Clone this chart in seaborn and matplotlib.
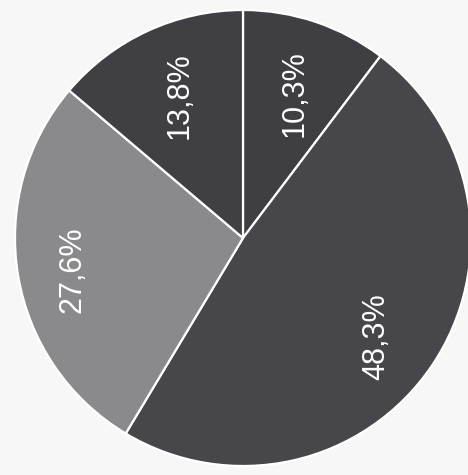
import matplotlib
matplotlib.use("Agg")
import matplotlib.pyplot as plt
import seaborn as sns

# Slice shares (percent), clockwise from 12 o'clock
shares = [10.3, 48.3, 27.6, 13.8]
labels = ["10,3%", "48,3%", "27,6%", "13,8%"]
slice_colors = ["#3f3e42", "#47464a", "#8a898c", "#403f43"]
# label anchor points in pie units (radius = 1)
label_xy = [(0.228, 0.632), (0.583, -0.434), (-0.75, -0.14), (-0.276, 0.623)]

sns.set_theme(style="white")
plt.rcParams["font.family"] = ["Liberation Sans", "DejaVu Sans"]

bg = "#f7f7f7"
fig = plt.figure(figsize=(4.68, 4.75), dpi=100, facecolor=bg)
ax = fig.add_axes([15 / 468, 9 / 475, 456 / 468, 456 / 475])
ax.set_facecolor(bg)

palette = sns.color_palette(slice_colors)
ax.pie(shares, colors=palette, startangle=90, counterclock=False, radius=1,
       wedgeprops=dict(edgecolor="white", linewidth=1.6))

for text, (x, y) in zip(labels, label_xy):
    ax.text(x, y, text, rotation=90, ha="center", va="center",
            color="white", fontsize=22)

ax.set_xlim(-1, 1)
ax.set_ylim(-1, 1)
ax.set_aspect("equal")
ax.axis("off")

fig.savefig("out.png", dpi=100, facecolor=bg)
